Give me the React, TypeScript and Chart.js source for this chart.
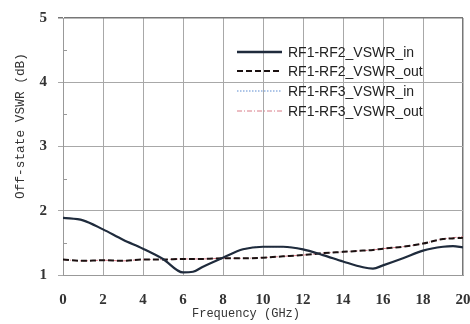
import React, { useEffect, useRef } from "react";
import { Chart, registerables } from "chart.js";

Chart.register(...registerables);

const freq = [0, 1, 2, 3, 4, 5, 6, 6.5, 7, 8, 9, 10, 11, 12, 13, 14, 15, 15.5, 16, 17, 18, 19, 19.5, 20];
const rf12In = [1.89, 1.85, 1.71, 1.55, 1.41, 1.25, 1.04, 1.05, 1.13, 1.27, 1.40, 1.44, 1.44, 1.40, 1.31, 1.21, 1.12, 1.10, 1.15, 1.26, 1.38, 1.44, 1.45, 1.43];
const rf12Out = [1.24, 1.22, 1.23, 1.22, 1.24, 1.24, 1.25, 1.25, 1.25, 1.26, 1.26, 1.27, 1.29, 1.31, 1.34, 1.36, 1.38, 1.39, 1.41, 1.44, 1.49, 1.56, 1.57, 1.58];
const rf13In = [1.89, 1.85, 1.71, 1.55, 1.41, 1.25, 1.04, 1.05, 1.13, 1.27, 1.40, 1.44, 1.44, 1.40, 1.31, 1.21, 1.12, 1.10, 1.15, 1.26, 1.38, 1.44, 1.45, 1.43];
const rf13Out = [1.24, 1.22, 1.23, 1.22, 1.24, 1.24, 1.25, 1.25, 1.25, 1.26, 1.26, 1.27, 1.29, 1.31, 1.34, 1.36, 1.38, 1.39, 1.41, 1.44, 1.49, 1.56, 1.58, 1.60];
const seriesNames = ["RF1-RF2_VSWR_in", "RF1-RF2_VSWR_out", "RF1-RF3_VSWR_in", "RF1-RF3_VSWR_out"];
const xTitle = "Frequency (GHz)";
const yTitle = "Off-state VSWR (dB)";

const toPts = (ys: number[]) => freq.map((x, i) => ({ x, y: ys[i] }));

const decorPlugin = {
  id: "decor",
  afterDraw(chart: any) {
    const ctx = chart.ctx;
    const area = chart.chartArea;
    const yScale = chart.scales.y;
    // minor ticks
    ctx.save();
    ctx.strokeStyle = "#999";
    ctx.lineWidth = 1;
    for (let v = 1.5; v < 5; v += 1) {
      const py = Math.round(yScale.getPixelForValue(v)) + 0.5;
      ctx.beginPath();
      ctx.moveTo(area.left, py);
      ctx.lineTo(area.left + 4, py);
      ctx.stroke();
    }
    ctx.restore();

    // axis titles
    ctx.save();
    ctx.fillStyle = "#333";
    ctx.textAlign = "center";
    ctx.textBaseline = "middle";
    ctx.font = "12px 'Liberation Mono', 'DejaVu Sans Mono', monospace";
    ctx.fillText(xTitle, 246, 314);
    ctx.translate(21, 126);
    ctx.rotate(-Math.PI / 2);
    ctx.font = "12.8px 'Liberation Mono', 'DejaVu Sans Mono', monospace";
    ctx.fillText(yTitle, 0, 0);
    ctx.restore();

    // legend
    const x0 = area.left + 174;
    const rows = [52, 71, 91, 111];
    ctx.save();
    ctx.font = "14px 'Liberation Sans', Arial, sans-serif";
    ctx.textBaseline = "middle";
    ctx.fillStyle = "#222";
    chart.data.datasets.forEach((ds: any, i: number) => {
      const y = rows[i];
      ctx.save();
      ctx.strokeStyle = ds.borderColor;
      ctx.lineWidth = i === 0 ? 2.5 : i === 1 ? 2 : 1;
      ctx.setLineDash(ds.borderDash || []);
      ctx.beginPath();
      ctx.moveTo(x0, y);
      ctx.lineTo(x0 + 45, y);
      ctx.stroke();
      ctx.restore();
      ctx.fillText(ds.label, x0 + 51, y + 1);
    });
    ctx.restore();
  },
};

export default function App() {
  const ref = useRef<HTMLCanvasElement>(null);
  useEffect(() => {
    document.body.style.margin = "0";
    const tickFont = { family: "'Liberation Serif', 'Times New Roman', serif", size: 15, weight: "bold" };
    const chart = new Chart(ref.current!, {
      type: "line",
      data: {
        datasets: [
          {
            label: seriesNames[0],
            data: toPts(rf12In),
            borderColor: "#1f2b3c",
            borderWidth: 2.2,
            pointRadius: 0,
            cubicInterpolationMode: "monotone",
          },
          {
            label: seriesNames[1],
            data: toPts(rf12Out),
            borderColor: "#1a1010",
            borderWidth: 2,
            borderDash: [6, 3],
            pointRadius: 0,
            cubicInterpolationMode: "monotone",
          },
          {
            label: seriesNames[2],
            data: toPts(rf13In),
            borderColor: "#5b8bd0",
            borderWidth: 1,
            borderDash: [1.5, 1.5],
            pointRadius: 0,
            cubicInterpolationMode: "monotone",
          },
          {
            label: seriesNames[3],
            data: toPts(rf13Out),
            borderColor: "#d87a86",
            borderWidth: 1,
            borderDash: [5, 2, 1, 2],
            pointRadius: 0,
            cubicInterpolationMode: "monotone",
          },
        ],
      },
      options: {
        animation: false,
        responsive: false,
        layout: { padding: { top: 18, right: 7, left: 0, bottom: 0 } },
        plugins: { legend: { display: false }, tooltip: { enabled: false } },
        scales: {
          x: {
            type: "linear",
            min: 0,
            max: 20,
            ticks: {
              stepSize: 2,
              color: "#333",
              padding: 16,
              font: tickFont,
            },
            grid: {
              color: (c: any) => (c.tick && c.tick.value === 20 ? "#777" : "#a8a8a8"),
              lineWidth: (c: any) => (c.tick && c.tick.value === 20 ? 1.5 : 1),
              drawTicks: false,
            },
            border: { color: "#999" },
            afterFit: (s: any) => {
              s.height = 49;
              s.paddingLeft = 0;
              s.paddingRight = 0;
            },
          },
          y: {
            min: 1,
            max: 5,
            ticks: {
              stepSize: 1,
              color: "#333",
              padding: 11,
              font: tickFont,
            },
            grid: {
              color: (c: any) => (c.tick && c.tick.value === 5 ? "#777" : "#a8a8a8"),
              lineWidth: (c: any) => (c.tick && c.tick.value === 5 ? 1.5 : 1),
              tickLength: 5,
            },
            border: { color: "#999" },
            afterFit: (s: any) => {
              s.width = 63;
              s.paddingTop = 0;
              s.paddingBottom = 0;
            },
          },
        },
      },
      plugins: [decorPlugin],
    } as any);
    return () => chart.destroy();
  }, []);
  return <canvas ref={ref} width={470} height={324} style={{ display: "block" }} />;
}
